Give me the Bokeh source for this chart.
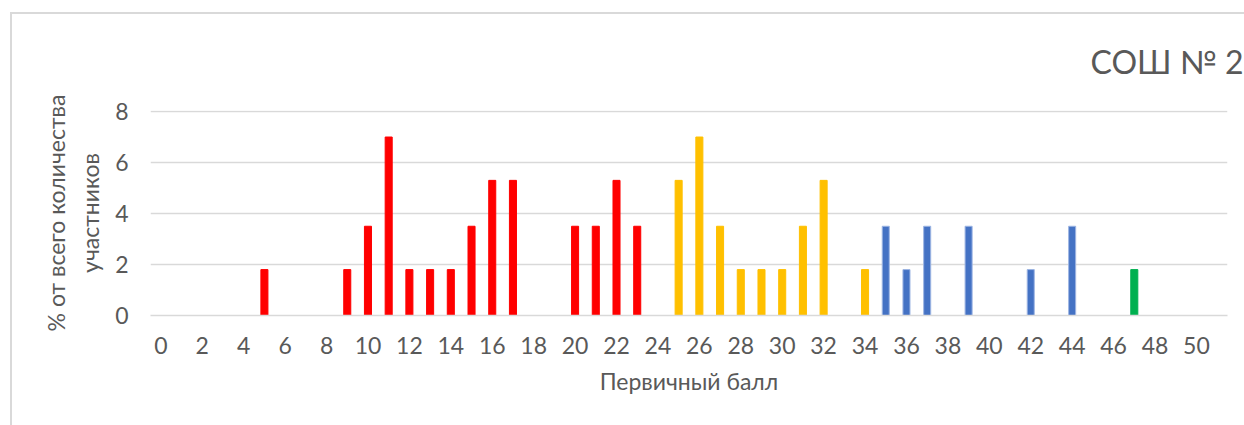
from bokeh.plotting import figure
from bokeh.models import Range1d, FixedTicker, Title
from bokeh.embed import file_html
from bokeh.resources import INLINE

# ---- data (percent of all participants by primary score) ----
red_scores = [5, 9, 10, 11, 12, 13, 14, 15, 16, 17, 20, 21, 22, 23]
red_pct = [1.8, 1.8, 3.5, 7.0, 1.8, 1.8, 1.8, 3.5, 5.3, 5.3, 3.5, 3.5, 5.3, 3.5]
yellow_scores = [25, 26, 27, 28, 29, 30, 31, 32, 34]
yellow_pct = [5.3, 7.0, 3.5, 1.8, 1.8, 1.8, 3.5, 5.3, 1.8]
blue_scores = [35, 36, 37, 39, 42, 44]
blue_pct = [3.5, 1.8, 3.5, 3.5, 1.8, 3.5]
green_scores = [47]
green_pct = [1.8]

x_ticks = list(range(0, 51, 2))
y_ticks = [0, 2, 4, 6, 8]

FONT = "Lato"
TXT = "#595959"
GRID = "#D9D9D9"

p = figure(width=1244, height=425, output_backend="svg", toolbar_location=None,
           x_range=Range1d(-0.5, 51.5), y_range=Range1d(0, 8.04),
           min_border_left=150, min_border_right=17, min_border_top=110,
           min_border_bottom=110)
p.outline_line_color = None
p.background_fill_color = None
p.border_fill_color = None
# chart-area border (left and top edges visible, the rest runs off the page)
p.styles = {
    "background-color": "white",
    "background-image": ("linear-gradient(#D9D9D9, #D9D9D9), "
                         "linear-gradient(#D9D9D9, #D9D9D9)"),
    "background-repeat": "no-repeat",
    "background-position": "10px 12px, 10px 12px",
    "background-size": "2px 100%, 100% 2px",
}

p.add_layout(Title(text="СОШ № 2", align="left", offset=940, standoff=59,
                   text_font=FONT, text_font_size="32px",
                   text_font_style="normal", text_color=TXT), "above")

for xs, ys, col, lc in [(red_scores, red_pct, "#FF0000", "#FF0000"),
                        (yellow_scores, yellow_pct, "#FFC000", "#FFC000"),
                        (blue_scores, blue_pct, "#4472C4", "#9DB5E3"),
                        (green_scores, green_pct, "#00B050", "#00B050")]:
    p.vbar(x=xs, top=ys, bottom=0, width=0.34, fill_color=col,
           line_color=lc, line_width=1)

# axes
p.xaxis.ticker = FixedTicker(ticks=x_ticks)
p.yaxis.ticker = FixedTicker(ticks=y_ticks)
p.xgrid.grid_line_color = None
p.ygrid.grid_line_color = GRID
p.ygrid.grid_line_width = 1.5

for ax in (p.xaxis[0], p.yaxis[0]):
    ax.major_tick_line_color = None
    ax.minor_tick_line_color = None
    ax.major_tick_out = 0
    ax.major_tick_in = 0
    ax.major_label_text_font = FONT
    ax.major_label_text_font_size = "23px"
    ax.major_label_text_color = TXT
    ax.axis_label_text_font = FONT
    ax.axis_label_text_font_size = "23px"
    ax.axis_label_text_font_style = "normal"
    ax.axis_label_text_color = TXT

p.xaxis.axis_line_color = GRID
p.xaxis.axis_line_width = 1.5
p.yaxis.axis_line_color = None
p.xaxis.axis_label = "Первичный балл"
p.yaxis.axis_label = "% от всего количества\nучастников"
p.yaxis.axis_label_text_line_height = 1.22
p.xaxis.major_label_standoff = 21
p.xaxis.axis_label_standoff = 10
p.yaxis.major_label_standoff = 22
p.yaxis.axis_label_standoff = 8

open("out.html", "w").write(file_html(p, INLINE))
